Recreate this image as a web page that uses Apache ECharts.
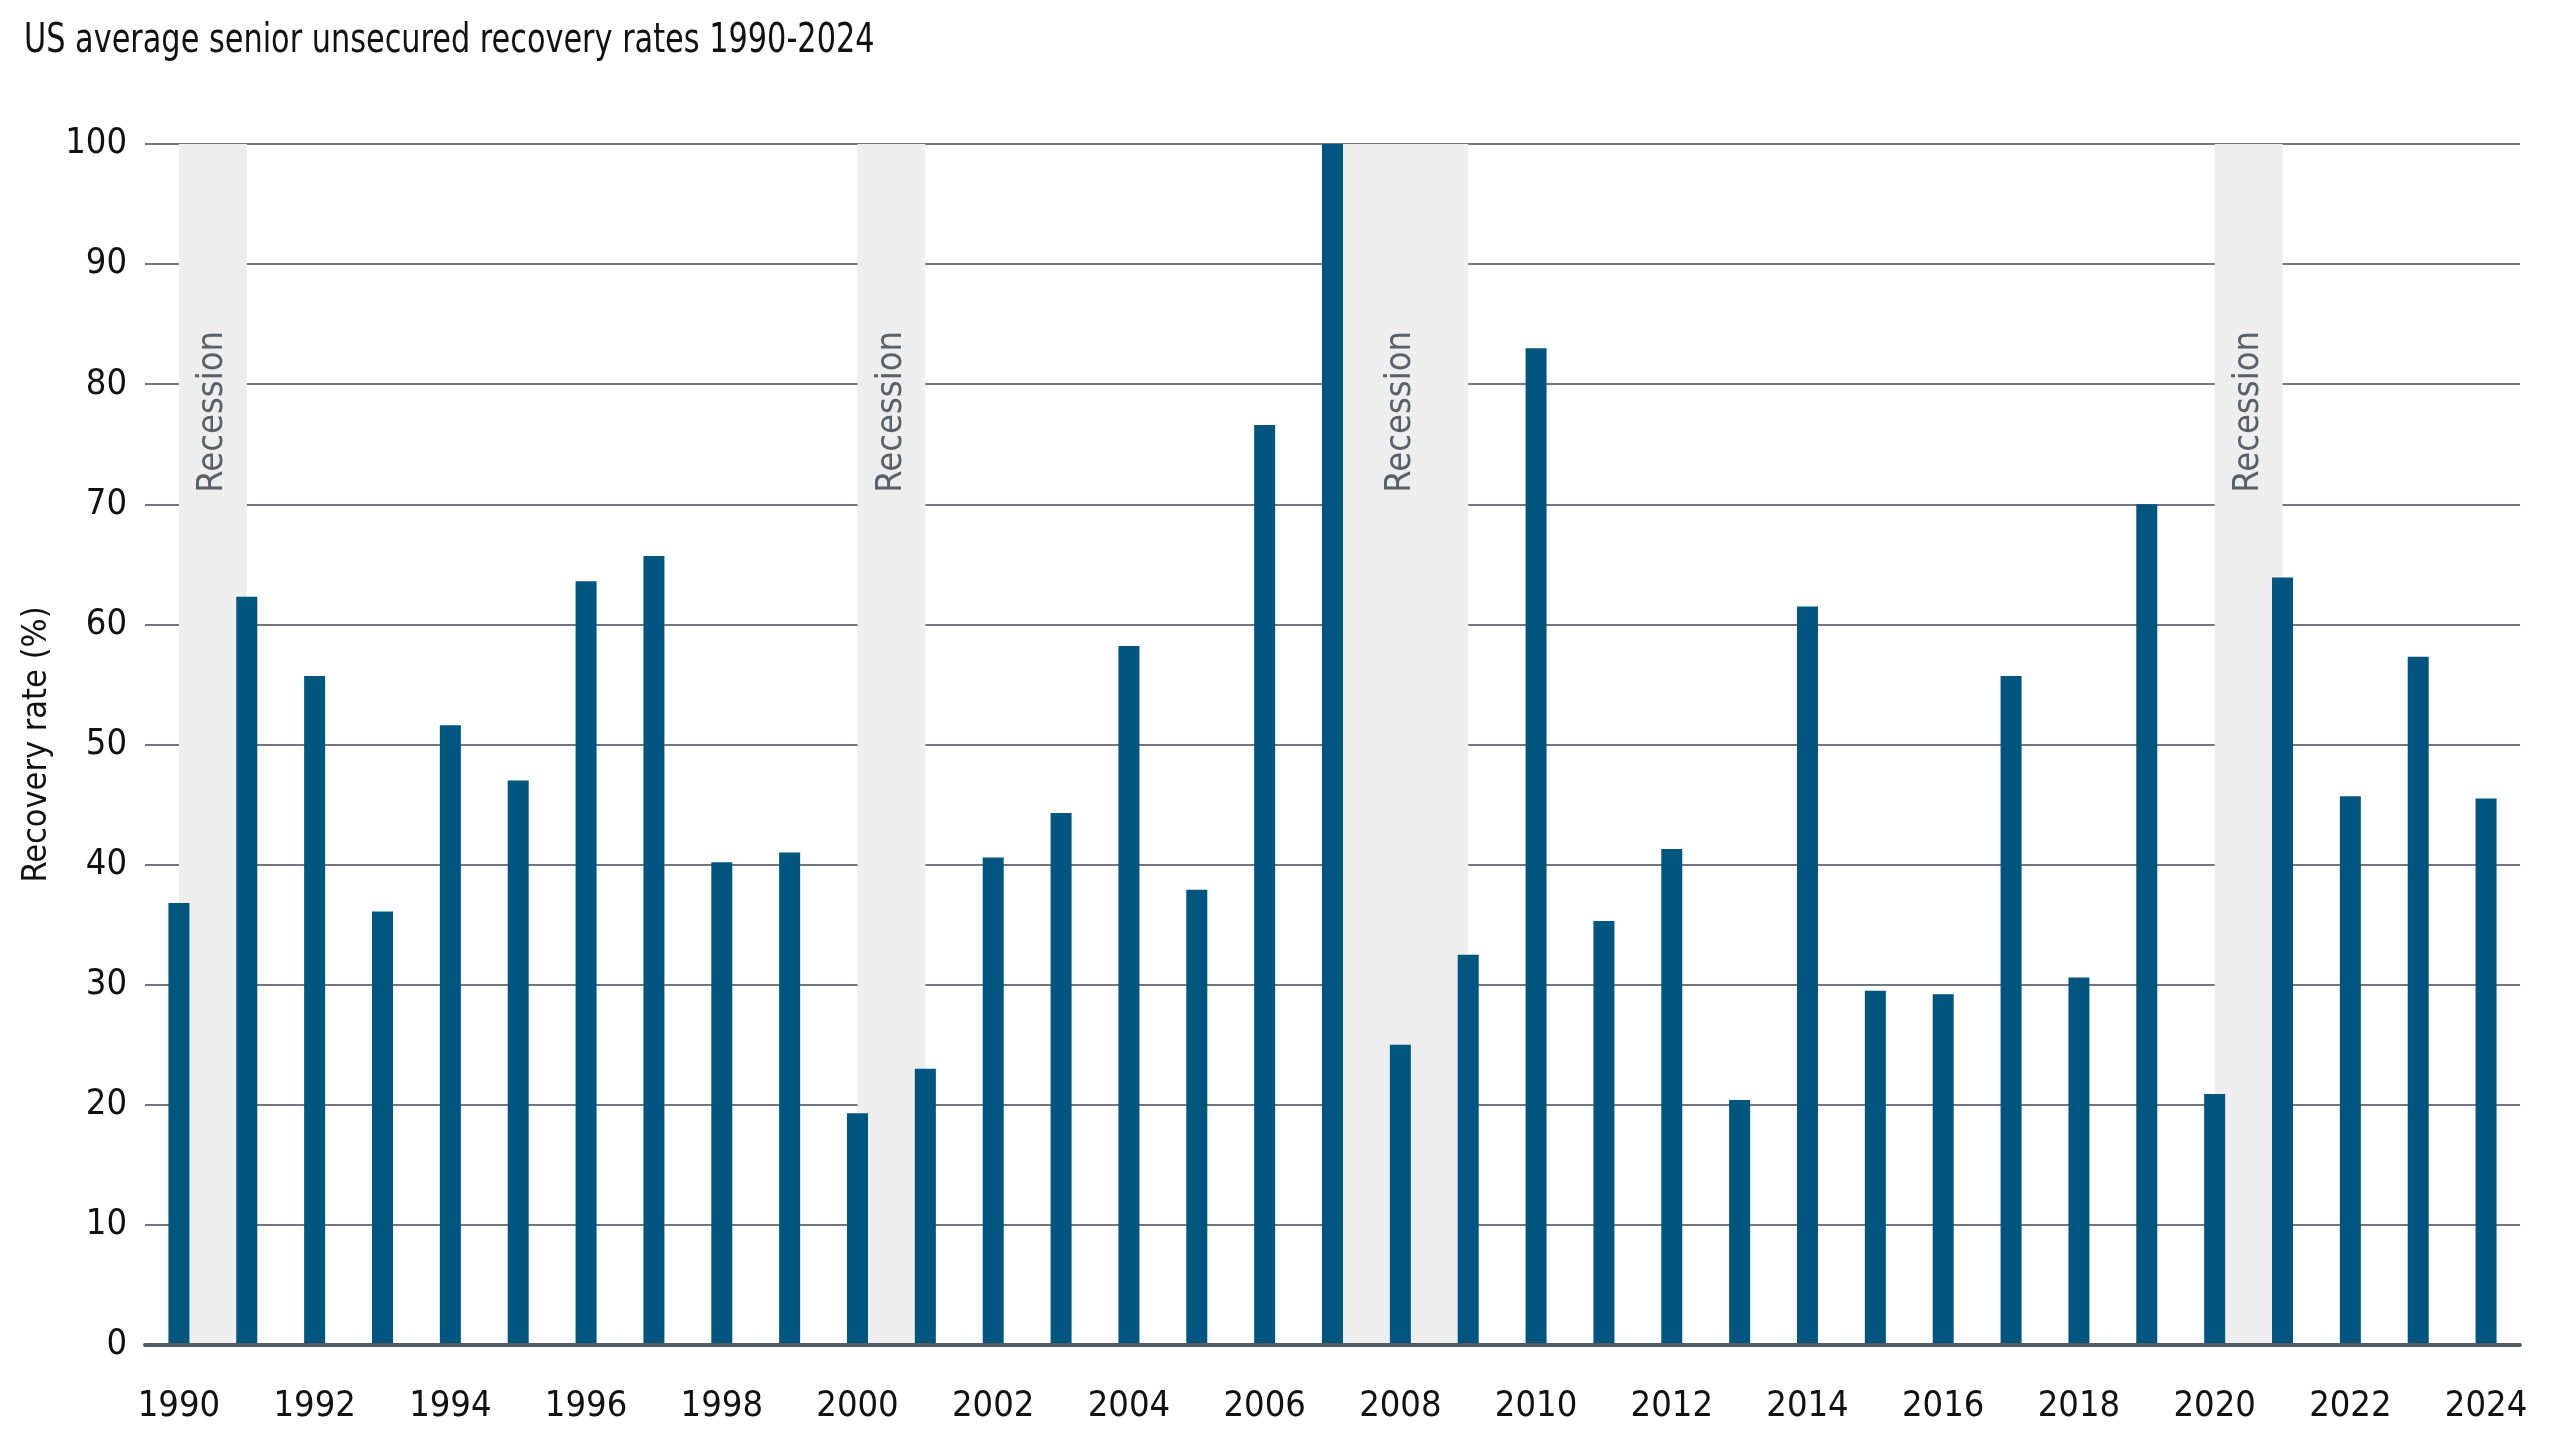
<!DOCTYPE html>
<html>
<head>
<meta charset="utf-8">
<script src="https://cdn.jsdelivr.net/npm/echarts@6/dist/echarts.min.js"></script>
<style>
html,body{margin:0;padding:0;background:#fff;}
#chart{width:2560px;height:1440px;}
</style>
</head>
<body>
<div id="chart"></div>
<script>
const years = ['1990','1991','1992','1993','1994','1995','1996','1997','1998','1999',
  '2000','2001','2002','2003','2004','2005','2006','2007','2008','2009',
  '2010','2011','2012','2013','2014','2015','2016','2017','2018','2019',
  '2020','2021','2022','2023','2024'];
const recoveryRates = [36.8, 62.3, 55.7, 36.1, 51.6, 47.0, 63.6, 65.7, 40.2, 41.0,
  19.3, 23.0, 40.6, 44.3, 58.2, 37.9, 76.6, 100.0, 25.0, 32.5,
  83.0, 35.3, 41.3, 20.4, 61.5, 29.5, 29.2, 55.7, 30.6, 70.0,
  20.9, 63.9, 45.7, 57.3, 45.5];
const recessions = [['1990','1991'], ['2000','2001'], ['2007','2009'], ['2020','2021']];
const recessionLabel = 'Recession';
const titleText = 'US average senior unsecured recovery rates 1990-2024';
const yAxisName = 'Recovery rate (%)';

const FONT = '"DejaVu Sans Condensed", "DejaVu Sans", sans-serif';
const chart = echarts.init(document.getElementById('chart'));
chart.setOption({
  animation: false,
  backgroundColor: '#ffffff',
  graphic: [{
    type: 'text',
    left: 24, top: 22,
    scaleX: 0.843,
    style: {text: titleText, font: '40px "DejaVu Sans Condensed", sans-serif', fill: '#111111'}
  }],
  grid: {left: 145, right: 40, top: 144, bottom: 95, containLabel: false},
  xAxis: [{
    type: 'category',
    data: years,
    boundaryGap: true,
    axisTick: {show: false},
    axisLine: {show: true, lineStyle: {color: '#555a62', width: 4}},
    axisLabel: {interval: 1, margin: 44, fontFamily: FONT, fontSize: 36, color: '#111111'},
    z: 5
  }, {
    type: 'value',
    show: false,
    min: -0.5,
    max: years.length - 0.5,
    position: 'bottom'
  }],
  yAxis: {
    type: 'value',
    min: 0, max: 100, interval: 10,
    name: yAxisName,
    nameLocation: 'middle',
    nameGap: 91,
    nameTextStyle: {fontFamily: FONT, fontSize: 34, color: '#111111'},
    axisLine: {show: false},
    axisTick: {show: false},
    axisLabel: {margin: 18, fontFamily: FONT, fontSize: 36, color: '#111111'},
    splitLine: {show: true, lineStyle: {color: '#72777f', width: 2}}
  },
  series: [{
    type: 'line',
    xAxisIndex: 1,
    data: [],
    silent: true,
    z: 1,
    markArea: {
      silent: true,
      itemStyle: {color: '#eeeeee'},
      label: {
        show: true,
        formatter: recessionLabel,
        position: ['50%', 187],
        rotate: 90,
        align: 'right',
        verticalAlign: 'middle',
        fontFamily: FONT,
        fontSize: 36,
        color: '#5a6068'
      },
      data: recessions.map(r => [{xAxis: years.indexOf(r[0])}, {xAxis: years.indexOf(r[1])}])
    }
  }, {
    type: 'bar',
    data: recoveryRates,
    barWidth: 21,
    itemStyle: {color: '#00567f'},
    z: 3
  }]
});
</script>
</body>
</html>
